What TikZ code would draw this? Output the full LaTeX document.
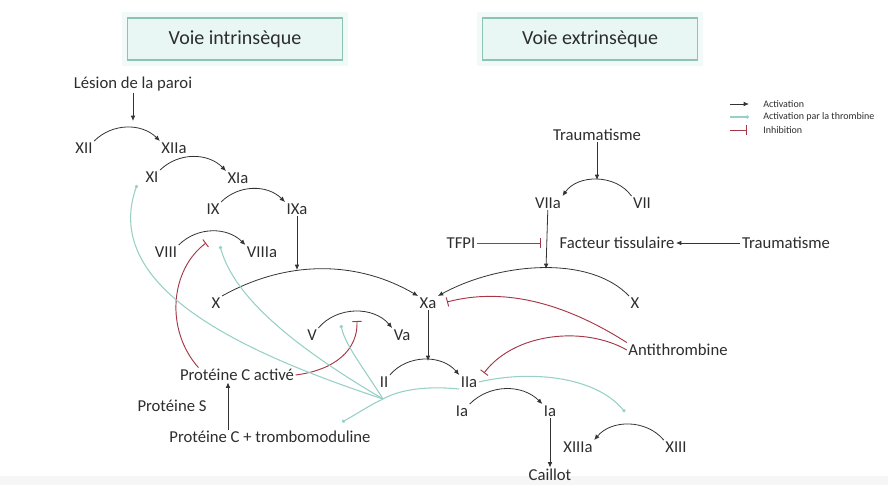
\documentclass[tikz,border=0pt]{standalone}
\usepackage{fontspec}
\setmainfont{Carlito}
\usetikzlibrary{arrows.meta}
\definecolor{boxfill}{RGB}{232,247,243}
\definecolor{boxline}{RGB}{140,195,180}
\definecolor{thrombteal}{RGB}{150,208,198}
\definecolor{inhibred}{RGB}{165,55,70}
\definecolor{facttext}{RGB}{45,45,45}
\tikzset{
    x=0.75pt, y=-0.75pt,
    factor/.style={inner sep=1pt, text=facttext,
        font=\fontsize{12.5}{14}\selectfont},
    waybox/.style={draw=boxline, fill=boxfill, line width=1pt,
        preaction={draw=boxfill!60, line width=9pt},
        minimum width=161pt, minimum height=31.5pt, text=facttext,
        font=\fontsize{15}{17}\selectfont},
    act/.style={-{Latex[length=4pt, width=3.5pt]}, black!80, line width=0.6pt},
    thromb/.style={-{Circle[length=2.5pt]}, thrombteal, line width=0.8pt},
    inhib/.style={-{Bar[width=7pt]}, inhibred, line width=0.7pt},
    legtext/.style={anchor=west, inner sep=0pt, text=facttext,
        font=\fontsize{7.5}{8}\selectfont},
}

\begin{document}
\begin{tikzpicture}
    \useasboundingbox (0,0) rectangle (888,485);
    \fill[gray!7] (0,476) rectangle (888,485);

    % titles
    \node[waybox] (intr) at (235,39) {Voie intrinsèque};
    \node[waybox] (extr) at (590,39) {Voie extrinsèque};

    % legend
    \coordinate (la1) at (730,104);
    \coordinate (lb1) at (749,104);
    \coordinate (la2) at (730,117);
    \coordinate (lb2) at (749,117);
    \coordinate (la3) at (730,130);
    \coordinate (lb3) at (747,130);
    \draw[act] (la1) -- (lb1);
    \draw[thromb] (la2) -- (lb2);
    \draw[inhib] (la3) -- (lb3);
    \node[legtext] (leg1) at (763,104) {Activation};
    \node[legtext] (leg2) at (763,117) {Activation par la thrombine};
    \node[legtext] (leg3) at (763,130) {Inhibition};

    % intrinsic pathway
    \node[factor] (lesion) at (133,84) {Lésion de la paroi};
    \node[factor] (xii) at (84,148) {XII};
    \node[factor] (xiia) at (174,148) {XIIa};
    \node[factor] (xi) at (152,177) {XI};
    \node[factor] (xia) at (238,178) {XIa};
    \node[factor] (ix) at (213,209) {IX};
    \node[factor] (ixa) at (297,209) {IXa};
    \node[factor] (viii) at (166,252) {VIII};
    \node[factor] (viiia) at (262,252) {VIIIa};
    \node[factor] (xl) at (216,303) {X};
    \node[factor] (v) at (312,335) {V};
    \node[factor] (va) at (402,335) {Va};
    \node[factor] (pca) at (237,375) {Protéine C activé};
    \node[factor] (ps) at (172,406) {Protéine S};
    \node[factor] (pct) at (270,437) {Protéine C + trombomoduline};

    % common pathway
    \node[factor] (xa) at (428,303) {Xa};
    \node[factor] (ii) at (384,382) {II};
    \node[factor] (iia) at (469,382) {IIa};
    \node[factor] (ia) at (462,411) {Ia};
    \node[factor] (iab) at (550,411) {Ia};
    \node[factor] (caillot) at (550,475) {Caillot};
    \node[factor] (xiiia) at (578,447) {XIIIa};
    \node[factor] (xiii) at (676,447) {XIII};

    % extrinsic pathway
    \node[factor] (trauma) at (597,135) {Traumatisme};
    \node[factor] (viia) at (548,203) {VIIa};
    \node[factor] (vii) at (642,203) {VII};
    \node[factor] (tfpi) at (461,243) {TFPI};
    \node[factor] (ft) at (617,243) {Facteur tissulaire};
    \node[factor] (traumb) at (786,243) {Traumatisme};
    \node[factor] (xr) at (635,303) {X};
    \node[factor] (at) at (678,350) {Antithrombine};

    % points on the arcs
    \coordinate (xiitop) at (133,121);
    \coordinate (ixdrop) at (297,270);
    \coordinate (xadrop) at (428,361);
    \coordinate (viitop) at (597,180);
    \coordinate (ftdrop) at (546,269);
    \coordinate (tfbar) at (541,243);
    \coordinate (xabar) at (447,302);
    \coordinate (iiabar) at (484,373);
    \coordinate (viiibar) at (206,243);
    \coordinate (vbar) at (357,321);
    \coordinate (hub) at (383,399);
    \coordinate (xidot) at (137,185);
    \coordinate (viiidot) at (220,246);
    \coordinate (vdot) at (341,325);
    \coordinate (tmdot) at (342,422);
    \coordinate (xiiidot) at (625,412);

    % activations
    \draw[act] (lesion) -- (xiitop);
    \draw[act] (xii.north east) to[bend left=45] (xiia.north west);
    \draw[act] (xi.north east) to[bend left=45] (xia.north west);
    \draw[act] (ix.north east) to[bend left=45] (ixa.north west);
    \draw[act] (viii.north east) to[bend left=45] (viiia.north west);
    \draw[act] (ixa) -- (ixdrop);
    \draw[act] (xl.north east) .. controls (290,258) and (360,262) .. (xa.north west);
    \draw[act] (v.north east) to[bend left=50] (va.north west);
    \draw[act] (xa) -- (xadrop);
    \draw[act] (ii.north east) to[bend left=50] (iia.north west);
    \draw[act] (ia.north east) to[bend left=45] (iab.north west);
    \draw[act] (iab) -- (caillot);
    \draw[act] (xiii.north west) to[bend right=50] (xiiia.north east);
    \draw[act] (trauma) -- (viitop);
    \draw[act] (vii.north west) to[bend right=55] (viia.north east);
    \draw[act] (viia) -- (ftdrop);
    \draw[act] (traumb) -- (ft);
    \draw[act] (xr.north west) .. controls (590,255) and (500,262) .. (xa.north east);
    \draw[act] ([xshift=-31.5pt]pct.north) -- ([xshift=-6.75pt]pca.south);

    % inhibitions
    \draw[inhib] (tfpi) -- (tfbar);
    \draw[inhib] (at.north west) .. controls (560,300) and (500,288) .. (xabar);
    \draw[inhib] (at.west) .. controls (585,326) and (515,332) .. (iiabar);
    \draw[inhib] ([xshift=15pt]pca.north west) .. controls (165,330) and (170,270) .. (viiibar);
    \draw[inhib] (pca.east) .. controls (335,370) and (358,350) .. (vbar);

    % activations by thrombin
    \draw[thromb] (iia.south west) .. controls (420,385) and (395,392) .. (hub)
        .. controls (370,405) and (355,415) .. (tmdot);
    \draw[thromb] (hub) .. controls (250,355) and (100,290) .. (xidot);
    \draw[thromb] (hub) .. controls (300,350) and (235,300) .. (viiidot);
    \draw[thromb] (hub) .. controls (365,370) and (345,345) .. (vdot);
    \draw[thromb] (iia.east) .. controls (530,370) and (595,376) .. (xiiidot);
\end{tikzpicture}
\end{document}
